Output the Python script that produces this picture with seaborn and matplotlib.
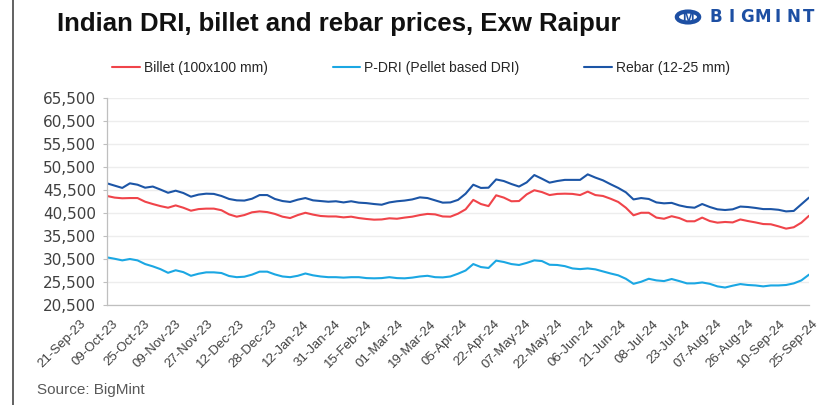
import numpy as np
import pandas as pd
import matplotlib
matplotlib.use('Agg')
import matplotlib.pyplot as plt
import seaborn as sns
from matplotlib.lines import Line2D
from matplotlib.patches import Circle
from matplotlib.ticker import FuncFormatter


# tick labels on the category axis (one label every 11 trading days)
date_labels = ['21-Sep-23', '09-Oct-23', '25-Oct-23', '09-Nov-23', '27-Nov-23', '12-Dec-23',
               '28-Dec-23', '12-Jan-24', '31-Jan-24', '15-Feb-24', '01-Mar-24', '19-Mar-24',
               '05-Apr-24', '22-Apr-24', '07-May-24', '22-May-24', '06-Jun-24', '21-Jun-24',
               '08-Jul-24', '23-Jul-24', '07-Aug-24', '26-Aug-24', '10-Sep-24', '25-Sep-24']

# prices, four readings between two date labels (INR/t)
billet = [44200, 43850, 43700, 43750, 43750, 42950, 42450, 42000, 41650, 42150, 41650, 41000,
          41350, 41450, 41450, 41100, 40200, 39700, 40050, 40650, 40850, 40700, 40300, 39700,
          39400, 40050, 40550, 40150, 39850, 39750, 39750, 39550, 39700, 39400, 39200, 39050,
          39100, 39350, 39250, 39500, 39700, 40050, 40300, 40200, 39750, 39700, 40350, 41300,
          43350, 42450, 42000, 44350, 43850, 43050, 43100, 44550, 45450, 45050, 44400, 44650,
          44700, 44650, 44400, 45150, 44400, 44200, 43600, 42900, 41650, 40000, 40550, 40550,
          39500, 39250, 39800, 39400, 38700, 38700, 39500, 38750, 38400, 38550, 38450, 39100,
          38750, 38450, 38100, 38050, 37600, 37100, 37400, 38400, 39900]

p_dri = [30850, 30550, 30200, 30500, 30200, 29400, 28900, 28300, 27500, 28050, 27650, 26850,
         27300, 27600, 27600, 27450, 26800, 26550, 26650, 27100, 27750, 27750, 27150, 26700,
         26550, 26850, 27350, 26950, 26700, 26550, 26550, 26450, 26550, 26550, 26350, 26300,
         26350, 26550, 26350, 26300, 26450, 26700, 26850, 26550, 26500, 26700, 27300, 28000,
         29400, 28750, 28550, 30150, 29850, 29400, 29200, 29650, 30200, 30050, 29250, 29200,
         28950, 28450, 28300, 28450, 28250, 27800, 27350, 26950, 26200, 25100, 25550, 26200,
         25850, 25700, 26150, 25700, 25200, 25200, 25400, 25100, 24550, 24300, 24700, 25050,
         24850, 24750, 24550, 24750, 24750, 24850, 25200, 25850, 27100]

rebar = [46950, 46450, 45950, 46950, 46650, 46000, 46250, 45600, 44900, 45350, 44850, 44050,
         44500, 44700, 44650, 44200, 43550, 43250, 43200, 43600, 44400, 44400, 43550, 43100,
         42900, 43400, 43750, 43250, 43100, 42950, 43050, 42800, 43050, 42750, 42650, 42450,
         42300, 42800, 43050, 43200, 43450, 43900, 43750, 43250, 42750, 42800, 43350, 44700,
         46650, 45950, 46000, 47800, 47450, 46800, 46250, 47150, 48750, 47950, 47100, 47450,
         47700, 47700, 47700, 48900, 48200, 47600, 46750, 45950, 45000, 43450, 43750, 43550,
         42800, 42600, 42700, 42150, 41800, 41650, 42450, 41800, 41300, 41150, 41300, 41900,
         41800, 41600, 41350, 41350, 41200, 40850, 40950, 42400, 43850]

series_names = ['Billet (100x100 mm)', 'P-DRI (Pellet based DRI)', 'Rebar (12-25 mm)']
series_colors = ['#f0444a', '#1ba7e3', '#1c55a6']

# position on the category axis, in "label" units
pos = np.arange(len(billet)) / 4

df = pd.concat([
    pd.DataFrame({'pos': pos, 'price': billet, 'series': series_names[0]}),
    pd.DataFrame({'pos': pos, 'price': p_dri, 'series': series_names[1]}),
    pd.DataFrame({'pos': pos, 'price': rebar, 'series': series_names[2]}),
])

sns.set_theme(style='white')
plt.rcParams['font.family'] = ['Liberation Sans', 'DejaVu Sans']

fig = plt.figure(figsize=(8.28, 4.05), dpi=100)
ax = fig.add_axes([107 / 828, 1 - 305 / 405, 702 / 828, 207 / 405])

sns.lineplot(data=df, x='pos', y='price', hue='series', hue_order=series_names,
             palette=dict(zip(series_names, series_colors)), linewidth=1.5, ax=ax)

# y axis
ax.set_ylim(20500, 65500)
ax.set_yticks(np.arange(20500, 65501, 5000))
ax.yaxis.set_major_formatter(FuncFormatter(lambda v, p: f'{int(v):,}'))
for t in ax.get_yticklabels():
    t.set_family('DejaVu Sans')
ax.grid(axis='y', color='#ededed', linewidth=1)
ax.grid(axis='x', visible=False)

# x axis: tick marks every 8 points, date labels spread under the whole axis
ax.set_xlim(0, len(date_labels) - 1)
ax.set_xticks([])
ax.set_xticks(np.arange(0, len(date_labels) - 1, 8 / 11), minor=True)
ax.tick_params(axis='x', which='minor', length=4, width=0.8, color='#a6a6a6', direction='out')
ax.tick_params(axis='y', length=3, width=0.8, color='#bfbfbf', labelsize=11,
               labelcolor='#404040', pad=5, left=True)
for i, lab in enumerate(date_labels):
    x_frac = (80 + 31.8 * i - 107) / 702
    ax.text(x_frac, -13 / 207, lab, transform=ax.transAxes, rotation=45,
            rotation_mode='anchor', ha='right', va='top', fontsize=9.5, color='#404040',
            clip_on=False)
ax.set_xlabel('')
ax.set_ylabel('')

for side in ['top', 'right']:
    ax.spines[side].set_visible(False)
for side in ['left', 'bottom']:
    ax.spines[side].set_color('#bfbfbf')
    ax.spines[side].set_linewidth(0.9)

# legend on top
handles, labels = ax.get_legend_handles_labels()
ax.get_legend().remove()
fig.legend(handles, labels, loc='center', bbox_to_anchor=(421 / 828, 1 - 68 / 405), ncol=3,
           frameon=False, fontsize=10, handlelength=2.0, handletextpad=0.25,
           columnspacing=4.7, labelcolor='#262626')

# title, logo and source
fig.text(57 / 828, 1 - 31 / 405, 'Indian DRI, billet and rebar prices, Exw Raipur',
         fontsize=18.5, fontweight='bold', color='#111111', va='baseline', ha='left')

logo_blue = '#1d4fa3'
fig.add_artist(Circle((688 / 828, 1 - 17 / 405), 0.0135, transform=fig.transFigure,
                      facecolor='white', edgecolor=logo_blue, linewidth=3))
fig.text(688 / 828, 1 - 18 / 405, 'M', fontsize=10, fontweight='bold', color=logo_blue,
         ha='center', va='center')
for letter, lx in zip('BIGMINT', np.linspace(716, 809, 7)):
    fig.text(lx / 828, 1 - 17 / 405, letter, fontsize=12, fontweight='bold',
             color=logo_blue, ha='center', va='center', family='DejaVu Sans')

fig.text(37 / 828, 1 - 390 / 405, 'Source: BigMint', fontsize=11, color='#595959',
         ha='left', va='center')

# frame line on the left
fig.add_artist(Line2D([13 / 828, 13 / 828], [0, 1], transform=fig.transFigure,
                      color='#555555', linewidth=1.3))

fig.savefig('out.png', dpi=100)
